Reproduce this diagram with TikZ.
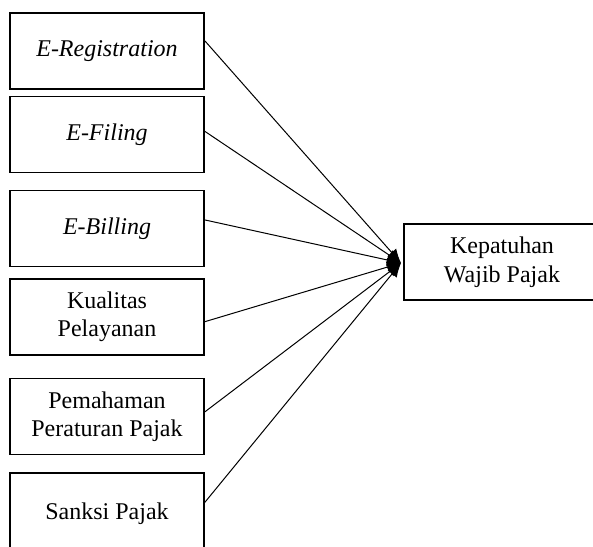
\documentclass[tikz,border=0pt]{standalone}
\usepackage{fontspec}
\setmainfont{Liberation Serif}
\usetikzlibrary{arrows.meta,calc}
\begin{document}
\begin{tikzpicture}[x=1pt,y=-1pt,
  var/.style={draw,line width=1.8pt,minimum width=194pt,minimum height=76pt,
    inner sep=0pt,align=center,font=\fontsize{24}{28.5}\selectfont},
  conn/.style={line width=1pt,-{Latex[length=14pt,width=12pt]}}]
\useasboundingbox (0,0) rectangle (593,546);
\clip (0,0) rectangle (593,546);
\node[var] (b1) at (107,51) {\itshape E-Registration};
\node[var] (b2) at (107,134.5) {\itshape E-Filing};
\node[var] (b3) at (107,228.5) {\itshape E-Billing};
\node[var] (b4) at (107,317) {Kualitas\\Pelayanan};
\node[var] (b5) at (107,416.5) {Pemahaman\\Peraturan Pajak};
\node[var,minimum height=82pt] (b6) at (107,514) {Sanksi Pajak};
\node[var,minimum width=196pt] (y) at (502,262) {Kepatuhan\\Wajib Pajak};
\coordinate (t) at (401,263);
\draw[conn] ($(b1.north east)!0.37!(b1.south east)$) -- (t);
\draw[conn] ($(b2.north east)!0.46!(b2.south east)$) -- (t);
\draw[conn] ($(b3.north east)!0.39!(b3.south east)$) -- (t);
\draw[conn] ($(b4.north east)!0.56!(b4.south east)$) -- (t);
\draw[conn] ($(b5.north east)!0.44!(b5.south east)$) -- (t);
\draw[conn] ($(b6.north east)!0.36!(b6.south east)$) -- (t);
\end{tikzpicture}
\end{document}
